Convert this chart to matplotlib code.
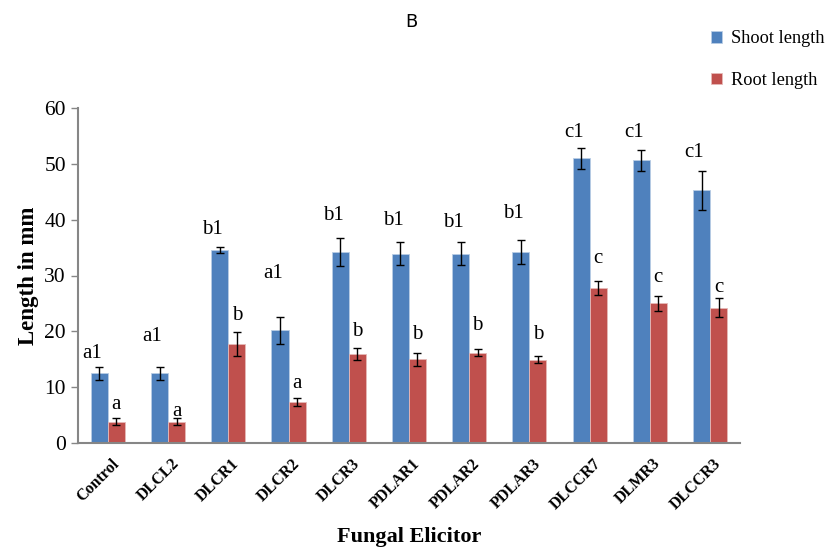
import numpy as np
import matplotlib
matplotlib.use("Agg")
import matplotlib.pyplot as plt

# values
elicitors = ["Control", "DLCL2", "DLCR1", "DLCR2", "DLCR3", "PDLAR1",
             "PDLAR2", "PDLAR3", "DLCCR7", "DLMR3", "DLCCR3"]
shoot = [12.5, 12.5, 34.6, 20.2, 34.2, 33.9, 33.9, 34.2, 51.0, 50.6, 45.3]
shoot_err = [1.2, 1.2, 0.5, 2.4, 2.5, 2.1, 2.1, 2.2, 1.9, 1.9, 3.5]
root = [3.8, 3.8, 17.7, 7.4, 15.9, 15.0, 16.2, 14.9, 27.8, 25.0, 24.2]
root_err = [0.6, 0.6, 2.1, 0.7, 1.1, 1.2, 0.7, 0.6, 1.25, 1.4, 1.7]
shoot_letters = ["a1", "a1", "b1", "a1", "b1", "b1", "b1", "b1", "c1", "c1", "c1"]
root_letters = ["a", "a", "b", "a", "b", "b", "b", "b", "c", "c", "c"]

# label placement (extra gap above error bar, data units)
shoot_pad = [2.3, 5.3, 3.2, 7.8, 4.1, 3.9, 3.5, 4.7, 2.8, 3.2, 3.2]
root_pad = [2.5, 1.2, 3.0, 2.5, 3.0, 3.2, 4.2, 4.0, 4.0, 3.2, 2.0]

serif = "Liberation Serif"
blue = "#4F81BD"
red = "#C0504D"
grey = "#868686"

fig = plt.figure(figsize=(8.27, 5.51), dpi=100)
ax = fig.add_axes([0.094, 0.196, 0.801, 0.608])

x = np.arange(len(elicitors))
w = 0.283
ax.bar(x - w / 2, shoot, w, color=blue, edgecolor="#B9CDE5", linewidth=0.6,
       yerr=shoot_err, capsize=3, error_kw=dict(elinewidth=1, capthick=1),
       label="Shoot length")
ax.bar(x + w / 2, root, w, color=red, edgecolor="#E6B9B8", linewidth=0.6,
       yerr=root_err, capsize=3, error_kw=dict(elinewidth=1, capthick=1),
       label="Root length")

for i in range(len(elicitors)):
    ax.text(x[i] - w / 2 - 0.12, shoot[i] + shoot_err[i] + shoot_pad[i],
            shoot_letters[i], ha="center", va="center",
            family=serif, fontsize=15)
    ax.text(x[i] + w / 2, root[i] + root_err[i] + root_pad[i],
            root_letters[i], ha="center", va="center",
            family=serif, fontsize=15)

ax.set_xlim(-0.5, len(elicitors) - 0.5)
ax.set_ylim(0, 60)
ax.set_yticks(range(0, 61, 10))
ax.set_xticks(x + 0.05)
ax.set_xticklabels(elicitors, rotation=45, ha="right", rotation_mode="anchor",
                   family=serif, fontweight="bold", fontsize=11.5)
for lab in ax.get_yticklabels():
    lab.set_family(serif)
    lab.set_fontsize(15.5)
ax.tick_params(axis="x", length=0, pad=9)
ax.tick_params(axis="y", length=5, color=grey, width=1)

for side in ["top", "right"]:
    ax.spines[side].set_visible(False)
for side in ["left", "bottom"]:
    ax.spines[side].set_color(grey)
    ax.spines[side].set_linewidth(1.5)

ax.set_ylabel("Length in mm", family=serif, fontweight="bold", fontsize=16.5)
ax.set_xlabel("Fungal Elicitor", family=serif, fontweight="bold", fontsize=16)
ax.xaxis.set_label_coords(0.5, -0.25)

fig.text(0.497, 0.96, "B", ha="center", va="center", fontsize=13,
         family="DejaVu Sans")

fig.legend(loc="upper left", bbox_to_anchor=(0.84, 0.975), frameon=False,
           handlelength=0.6, handleheight=0.6, handletextpad=0.5,
           labelspacing=1.35, prop=dict(family=serif, size=13.2))

fig.savefig("out.png", dpi=100)
